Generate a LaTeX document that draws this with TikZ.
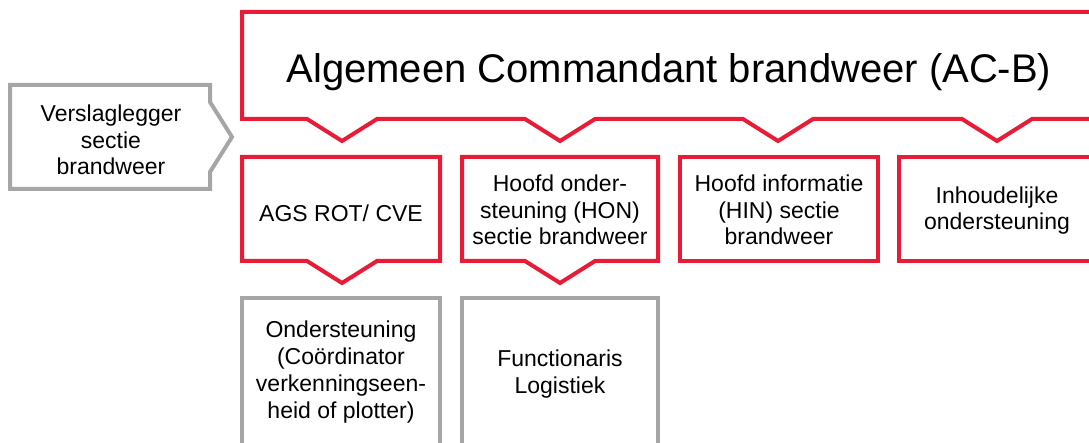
\documentclass[tikz,border=0pt]{standalone}
\usepackage{fontspec}
\setmainfont{Liberation Sans}
\definecolor{vrred}{HTML}{E91C37}
\definecolor{vrgray}{HTML}{A6A6A6}
\begin{document}
\begin{tikzpicture}[x=1pt,y=-1pt,
  redline/.style={draw=vrred,line width=4pt,fill=white},
  grayline/.style={draw=vrgray,line width=4pt,fill=white},
  lbl/.style={align=center,font=\fontsize{23}{26.7}\selectfont,inner sep=0pt,anchor=base},
  title/.style={align=center,font=\fontsize{40}{46}\selectfont,inner sep=0pt,anchor=base}]
\useasboundingbox (0,0) rectangle (1089,443);
\clip (0,0) rectangle (1089,443);
% top box with four chevrons
\draw[redline] (242,12) -- (1096,12) -- (1096,119)
  -- (1032,119) -- (997,141) -- (962,119)
  -- (813,119) -- (778,141) -- (743,119)
  -- (595,119) -- (560,141) -- (525,119)
  -- (377,119) -- (342,141) -- (307,119)
  -- (242,119) -- cycle;
% second row
\draw[redline] (242,157) -- (440,157) -- (440,261) -- (377,261) -- (342,283) -- (307,261) -- (242,261) -- cycle;
\draw[redline] (462,157) -- (658,157) -- (658,261) -- (595,261) -- (560,283) -- (525,261) -- (462,261) -- cycle;
\draw[redline] (680,157) rectangle (878,261);
\draw[redline] (899,157) rectangle (1097,261);
% third row
\draw[grayline] (242,298) rectangle (440,470);
\draw[grayline] (462,298) rectangle (658,470);
% left pointer
\draw[grayline] (10,85) -- (210,85) -- (210,102) -- (232,137) -- (210,172) -- (210,189) -- (10,189) -- cycle;
% texts (anchored at last-line baseline)
\node[title] (acb) at (669,83) {Algemeen Commandant brandweer (AC-B)};
\node[lbl] (ags) at (341,222) {AGS ROT/ CVE};
\node[lbl] (hon) at (560,245) {Hoofd onder-\\steuning (HON)\\sectie brandweer};
\node[lbl] (hin) at (779,245) {Hoofd informatie\\(HIN) sectie\\brandweer};
\node[lbl] (inh) at (997,230) {Inhoudelijke\\ondersteuning};
\node[lbl] (ond) at (341,418) {Ondersteuning\\(Coördinator\\verkenningseen-\\heid of plotter)};
\node[lbl] (fun) at (560,393) {Functionaris\\Logistiek};
\node[lbl] (ver) at (111,175) {Verslaglegger\\sectie\\brandweer};
\end{tikzpicture}
\end{document}
